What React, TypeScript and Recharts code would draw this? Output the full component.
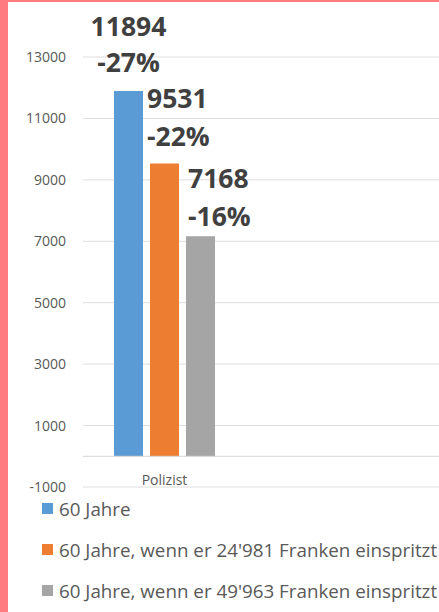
import { BarChart, Bar, XAxis, YAxis, CartesianGrid, ReferenceLine, Legend, LabelList } from "recharts";

const categories = ["Polizist"];
const series = [
  "60 Jahre",
  "60 Jahre, wenn er 24'981 Franken einspritzt",
  "60 Jahre, wenn er 49'963 Franken einspritzt",
];
const values = [11894, 9531, 7168];
const changes = [-27, -22, -16];
const colors = ["#5b9bd5", "#ed7d31", "#a5a5a5"];
const yTicks = [-1000, 1000, 3000, 5000, 7000, 9000, 11000, 13000];

const data = categories.map((name) => {
  const row: Record<string, string | number> = { name };
  series.forEach((_, i) => {
    row["s" + i] = values[i];
  });
  return row;
});

// hand-placed labels like in the original sheet
const labelPos = [
  { anchor: "middle", dx: 0, dy1: -55, dy2: -19 },
  { anchor: "start", dx: -3, dy1: -56, dy2: -18 },
  { anchor: "start", dx: 2, dy1: -48, dy2: -10 },
];

const font = "'Open Sans', 'Noto Sans', sans-serif";

function makeLabel(i: number) {
  return (props: any) => {
    const { x, y, width } = props;
    const p = labelPos[i];
    const lx = p.anchor === "middle" ? x + width / 2 : x + p.dx;
    return (
      <g>
        <text x={lx} y={y + p.dy1} textAnchor={p.anchor} fill="#404040" fontSize={26.5} fontWeight="bold" fontFamily={font}>
          {values[i]}
        </text>
        <text x={lx} y={y + p.dy2} textAnchor={p.anchor} fill="#404040" fontSize={26.5} fontWeight="bold" fontFamily={font}>
          {changes[i] + "%"}
        </text>
      </g>
    );
  };
}

const CategoryTick = (props: any) => (
  <text x={props.x} y={props.y - 2} textAnchor="middle" fill="#595959" fontSize={14} fontFamily={font}>
    {props.payload.value}
  </text>
);

const LegendList = () => (
  <div style={{ fontFamily: font, fontSize: 18.8, color: "#595959" }}>
    {series.map((s, i) => (
      <div key={s} style={{ display: "flex", alignItems: "center", height: 41, whiteSpace: "nowrap" }}>
        <span style={{ width: 11, height: 11, background: colors[i], marginRight: 6, flex: "none" }} />
        {s}
      </div>
    ))}
  </div>
);

export default function App() {
  return (
    <div style={{ position: "absolute", left: 0, top: 0, width: 439, height: 612, background: "#ff7b80" }}>
      <div style={{ position: "absolute", left: 8, top: 2, width: 431, height: 610, background: "#fff", overflow: "hidden" }}>
        <BarChart
          width={431}
          height={610}
          data={data}
          margin={{ top: 55, right: 0, bottom: 105, left: 0 }}
          barSize={29}
          barGap={7}
        >
          <CartesianGrid vertical={false} stroke="#dedede" />
          <XAxis
            dataKey="name"
            height={20}
            axisLine={false}
            tickLine={false}
            tickSize={0}
            tickMargin={0}
            padding={{ left: 0, right: 193 }}
            tick={<CategoryTick />}
          />
          <YAxis
            width={75}
            domain={[-1000, 13000]}
            ticks={yTicks}
            axisLine={false}
            tickLine={false}
            tickSize={0}
            tickMargin={17}
            tick={{ fill: "#595959", fontSize: 14, fontFamily: font }}
          />
          <ReferenceLine y={0} stroke="#d4d4d4" />
          {series.map((s, i) => (
            <Bar key={s} dataKey={"s" + i} name={s} fill={colors[i]} isAnimationActive={false}>
              <LabelList dataKey={"s" + i} content={makeLabel(i)} />
            </Bar>
          ))}
          <Legend
            layout="horizontal"
            verticalAlign="middle"
            align="center"
            wrapperStyle={{ left: 34, top: 486, width: 420 }}
            content={<LegendList />}
          />
        </BarChart>
      </div>
    </div>
  );
}
